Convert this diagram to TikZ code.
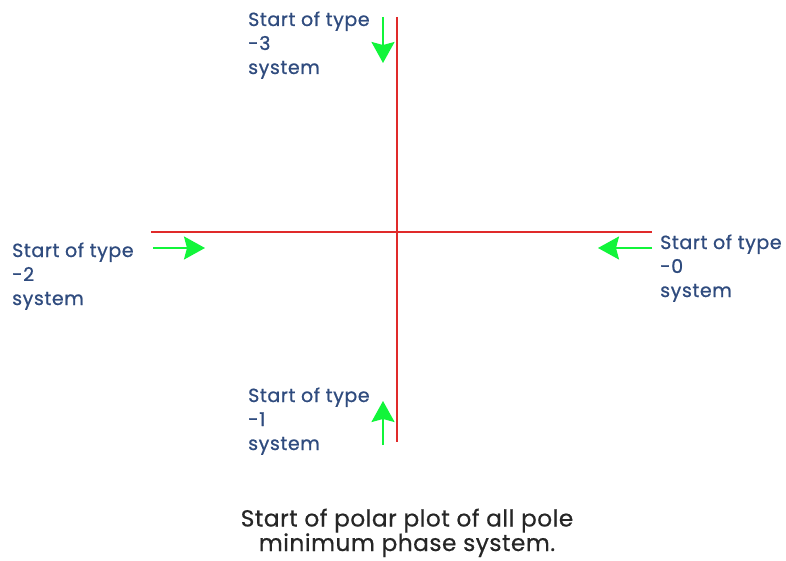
\documentclass[tikz,border=0pt]{standalone}
\usepackage{fontspec}
\setmainfont{Poppins}
\newfontfamily\lblfont{Poppins}[FakeBold=0.8,LetterSpace=3]
\newfontfamily\capfont{Poppins}[FakeBold=0.5,LetterSpace=2]
\usetikzlibrary{arrows.meta}
\definecolor{axisred}{HTML}{E02A2A}
\definecolor{arrgreen}{HTML}{11F53A}
\definecolor{lblblue}{HTML}{2F4B7E}
\tikzset{
  axisline/.style={draw=axisred, line width=1.6pt},
  garrow/.style={draw=arrgreen, line width=2pt, -{Stealth[length=21pt,width=23pt,inset=3pt]}},
  lbl/.style={anchor=base west, inner sep=0pt, align=left, text=lblblue,
    font=\lblfont\fontsize{19}{24}\selectfont},
  captiontext/.style={anchor=base, inner sep=0pt, align=center, text=black!85,
    font=\capfont\fontsize{23.3}{24.5}\selectfont}
}
\begin{document}
\begin{tikzpicture}[x=1pt,y=-1pt]
\useasboundingbox (0,0) rectangle (786,561);
% axes
\coordinate (vt) at (397,17);
\coordinate (vb) at (397,442);
\coordinate (hl) at (151,232);
\coordinate (hr) at (652,232);
\draw[axisline] (vt) -- (vb);
\draw[axisline] (hl) -- (hr);
% arrows
\coordinate (a3s) at (383,17);
\coordinate (a3e) at (383,63);
\coordinate (a2s) at (153,248);
\coordinate (a2e) at (205,248);
\coordinate (a0s) at (652,248);
\coordinate (a0e) at (598,248);
\coordinate (a1s) at (383,445);
\coordinate (a1e) at (383,401);
\draw[garrow] (a3s) -- (a3e);
\draw[garrow] (a2s) -- (a2e);
\draw[garrow] (a0s) -- (a0e);
\draw[garrow] (a1s) -- (a1e);
% labels (base anchor = last line baseline)
\node[lbl] (l3) at (248,74) {Start of type\\-3\\system};
\node[lbl] (l2) at (12,305) {Start of type\\-2\\system};
\node[lbl] (l0) at (660,297) {Start of type\\-0\\system};
\node[lbl] (l1) at (248,450) {Start of type\\-1\\system};
% caption
\node[captiontext] (caption) at (407,551) {Start of polar plot of all pole\\minimum phase system.};
\end{tikzpicture}
\end{document}
